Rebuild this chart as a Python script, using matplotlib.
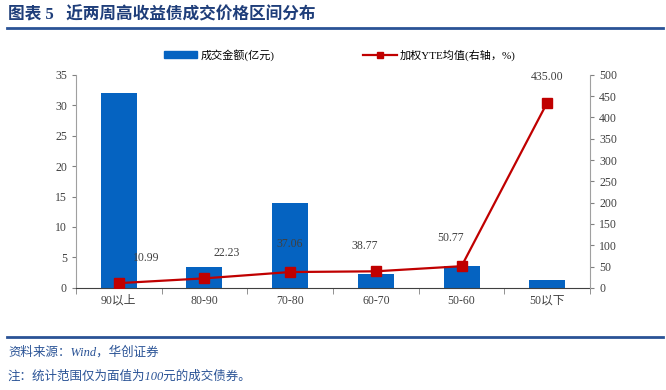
import numpy as np
import matplotlib.pyplot as plt
from matplotlib.lines import Line2D

plt.rcParams['font.family'] = ['Liberation Serif', 'Noto Sans CJK SC']

categories = ['90以上', '80-90', '70-80', '60-70', '50-60', '50以下']
amount = [32.0, 3.4, 14.0, 2.3, 3.6, 1.3]
yte = [10.99, 22.23, 37.06, 38.77, 50.77, 435.00]
yte_labels = ['10.99', '22.23', '37.06', '38.77', '50.77', '435.00']
label_offsets = [(20, 14), (16, 14), (0, 16), (-8, 14), (-8, 16), (0, 14)]

bar_color = '#0563C1'
line_color = '#C00000'
navy = '#2A5396'
title_color = '#1F3E7A'

fig = plt.figure(figsize=(6.66, 3.9), dpi=100)
ax = fig.add_axes([0.114, 0.262, 0.772, 0.546])
x = np.arange(len(categories))
ax.bar(x, amount, width=0.42, color=bar_color, zorder=2)
ax.set_xlim(-0.5, len(categories) - 0.5)
ax.set_ylim(0, 35)
ax.set_yticks(np.arange(0, 36, 5))
ax.set_xticks(x)
ax.set_xticklabels(categories, fontsize=8.5, color='#404040')
ax.set_xticks(np.arange(-0.5, len(categories), 1), minor=True)
ax.tick_params(axis='x', which='major', length=0, pad=5)
ax.tick_params(axis='x', which='minor', length=4, direction='out', color='#808080')
ax.tick_params(axis='y', labelsize=8.5, labelcolor='#404040', length=3, color='#808080')
for s in ['top', 'right']:
    ax.spines[s].set_visible(False)
ax.spines['left'].set_color('#A0A0A0')
ax.spines['bottom'].set_color('#404040')

ax2 = ax.twinx()
ax2.plot(x, yte, color=line_color, lw=1.6, marker='s', markersize=7, zorder=3)
ax2.set_ylim(0, 500)
ax2.set_yticks(np.arange(0, 501, 50))
ax2.tick_params(axis='y', labelsize=8.5, labelcolor='#404040', length=3, color='#808080')
for s in ['top', 'left', 'bottom']:
    ax2.spines[s].set_visible(False)
ax2.spines['right'].set_color('#A0A0A0')
for xi, yi, lab, off in zip(x, yte, yte_labels, label_offsets):
    ax2.annotate(lab, (xi, yi), xytext=off, textcoords='offset points',
                 ha='center', va='bottom', fontsize=8.5, color='#404040')

handles = [plt.Rectangle((0, 0), 1, 1, color=bar_color),
           Line2D([0], [0], color=line_color, lw=1.6, marker='s', markersize=4)]
fig.legend(handles, ['成交金额(亿元)', '加权YTE均值(右轴，%)'], loc='center',
           bbox_to_anchor=(0.51, 0.86), ncol=2, frameon=False, fontsize=8,
           columnspacing=8, handlelength=3, handleheight=0.6, handletextpad=0.3)

fig.text(0.012, 0.96, '图表 5   近两周高收益债成交价格区间分布', fontsize=12,
         fontweight='bold', color=title_color, va='center')
fig.add_artist(Line2D([0.01, 0.995], [0.927, 0.927], color=navy, lw=2))
fig.add_artist(Line2D([0.01, 0.995], [0.137, 0.137], color=navy, lw=2))
fig.text(0.012, 0.097, '资料来源：Wind，华创证券', fontsize=9, color=navy,
         style='italic', va='center')
fig.text(0.012, 0.035, '注：统计范围仅为面值为100元的成交债券。', fontsize=9, color=navy,
         style='italic', va='center')

fig.savefig('out.png', dpi=100)
